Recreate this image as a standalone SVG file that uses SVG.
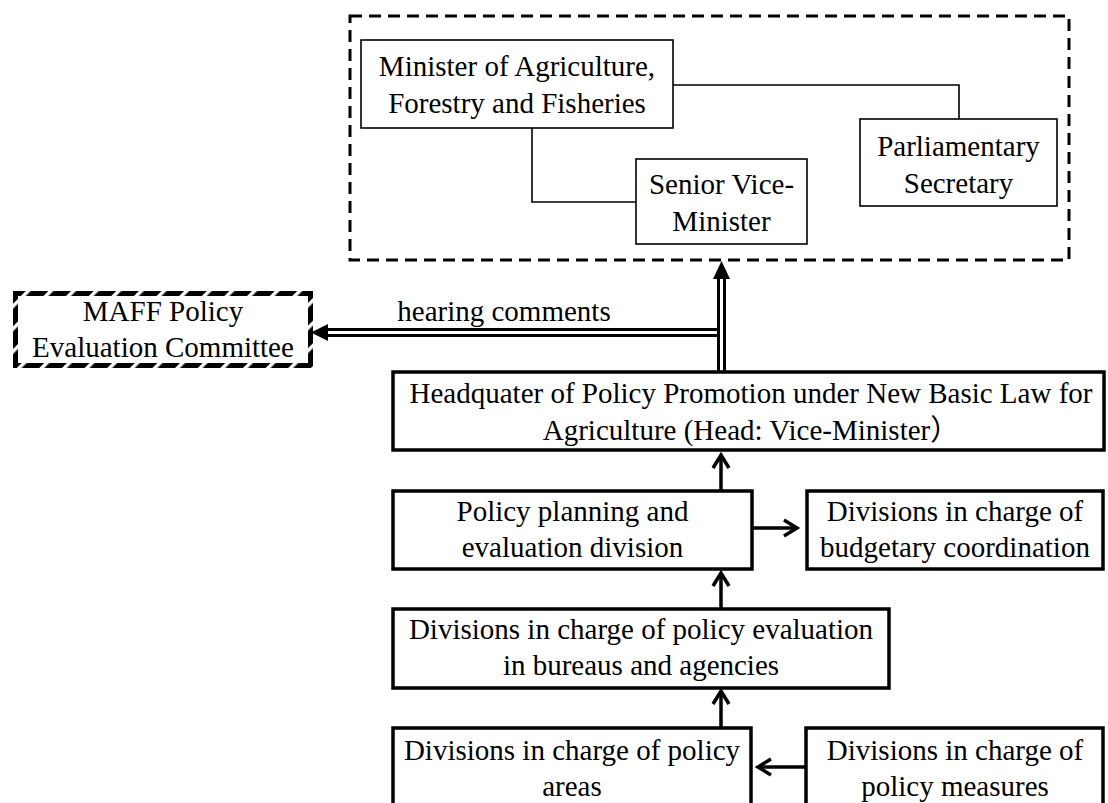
<svg xmlns="http://www.w3.org/2000/svg" width="1108" height="803" viewBox="0 0 1108 803">
  <style>
    text { font-family: "Liberation Serif", "Noto Sans CJK JP", serif; font-size: 29px; fill: #000; text-anchor: middle; }
    .thin { fill: #fff; stroke: #000; stroke-width: 1.6; }
    .thick { fill: #fff; stroke: #000; stroke-width: 3.5; }
    .conn { fill: none; stroke: #000; stroke-width: 1.6; }
    .arr { fill: none; stroke: #000; stroke-width: 3.5; marker-end: url(#chev); }
    .dbl-b { fill: none; stroke: #000; stroke-width: 9; }
    .dbl-w { fill: none; stroke: #fff; stroke-width: 3; }
  </style>
  <defs>
    <marker id="chev" markerUnits="userSpaceOnUse" viewBox="-16 -10 20 20" refX="0" refY="0" markerWidth="20" markerHeight="20" orient="auto" overflow="visible">
      <path d="M -13 -8 L 0 0 L -13 8" fill="none" stroke="#000" stroke-width="3.5" stroke-linejoin="miter"/>
    </marker>
    <pattern id="hatch" patternUnits="userSpaceOnUse" width="16" height="16" patternTransform="rotate(45)">
      <rect x="0" y="0" width="16" height="16" fill="#000"/>
      <rect x="0" y="0" width="3.5" height="16" fill="#fff"/>
    </pattern>
  </defs>
  <rect width="1108" height="803" fill="#fff"/>

  <g id="executive-group">
    <rect x="350" y="16" width="719" height="244" fill="none" stroke="#000" stroke-width="3" stroke-dasharray="12 7"/>
  </g>

  <g id="connectors">
    <path class="conn" d="M 673 85 H 959 V 119"/>
    <path class="conn" d="M 532 128 V 202 H 636"/>
    <path class="dbl-b" d="M 721.5 332.5 H 327"/>
    <path class="dbl-w" d="M 717 332.5 H 326"/>
    <path class="dbl-b" d="M 721.5 371 V 277"/>
    <path class="dbl-w" d="M 721.5 371 V 276"/>
    <polygon points="721.5,261 713,279 730,279" fill="#000"/>
    <polygon points="311,332.5 328,324 328,341" fill="#000"/>
    <path class="arr" d="M 721 491 V 455"/>
    <path class="arr" d="M 752 528 H 797"/>
    <path class="arr" d="M 721 609 V 573"/>
    <path class="arr" d="M 721 728 V 691"/>
    <path class="arr" d="M 806 767 H 758"/>
  </g>

  <text x="504" y="321">hearing comments</text>

  <g id="minister">
    <rect class="thin" x="361" y="40" width="312" height="88"/>
    <text x="517" y="76">Minister of Agriculture,</text>
    <text x="517" y="113">Forestry and Fisheries</text>
  </g>
  <g id="senior-vice-minister">
    <rect class="thin" x="636" y="159" width="171" height="85"/>
    <text x="721.5" y="194">Senior Vice-</text>
    <text x="721.5" y="231">Minister</text>
  </g>
  <g id="parliamentary-secretary">
    <rect class="thin" x="860" y="119" width="197" height="87"/>
    <text x="958.5" y="156">Parliamentary</text>
    <text x="958.5" y="193">Secretary</text>
  </g>

  <g id="maff-committee">
    <rect x="15.5" y="293.5" width="295" height="72" fill="#fff" stroke="url(#hatch)" stroke-width="5"/>
    <text x="163" y="321">MAFF Policy</text>
    <text x="163" y="357">Evaluation Committee</text>
  </g>

  <g id="headquarter">
    <rect class="thick" x="393" y="372" width="711" height="78"/>
    <text x="751" y="403">Headquater of Policy Promotion under New Basic Law for</text>
    <text x="751" y="440">Agriculture (Head: Vice-Minister）</text>
  </g>

  <g id="policy-planning">
    <rect class="thick" x="393" y="491" width="359" height="78"/>
    <text x="572.5" y="521">Policy planning and</text>
    <text x="572.5" y="557">evaluation division</text>
  </g>

  <g id="budgetary">
    <rect class="thick" x="807" y="491" width="296" height="78"/>
    <text x="955" y="521">Divisions in charge of</text>
    <text x="955" y="557">budgetary coordination</text>
  </g>

  <g id="policy-evaluation">
    <rect class="thick" x="393" y="609" width="496" height="79"/>
    <text x="641" y="639">Divisions in charge of policy evaluation</text>
    <text x="641" y="675">in bureaus and agencies</text>
  </g>

  <g id="policy-areas">
    <rect class="thick" x="393" y="728" width="358" height="90"/>
    <text x="572" y="760">Divisions in charge of policy</text>
    <text x="572" y="796">areas</text>
  </g>

  <g id="policy-measures">
    <rect class="thick" x="806" y="728" width="297" height="90"/>
    <text x="955" y="760">Divisions in charge of</text>
    <text x="955" y="796">policy measures</text>
  </g>
</svg>
